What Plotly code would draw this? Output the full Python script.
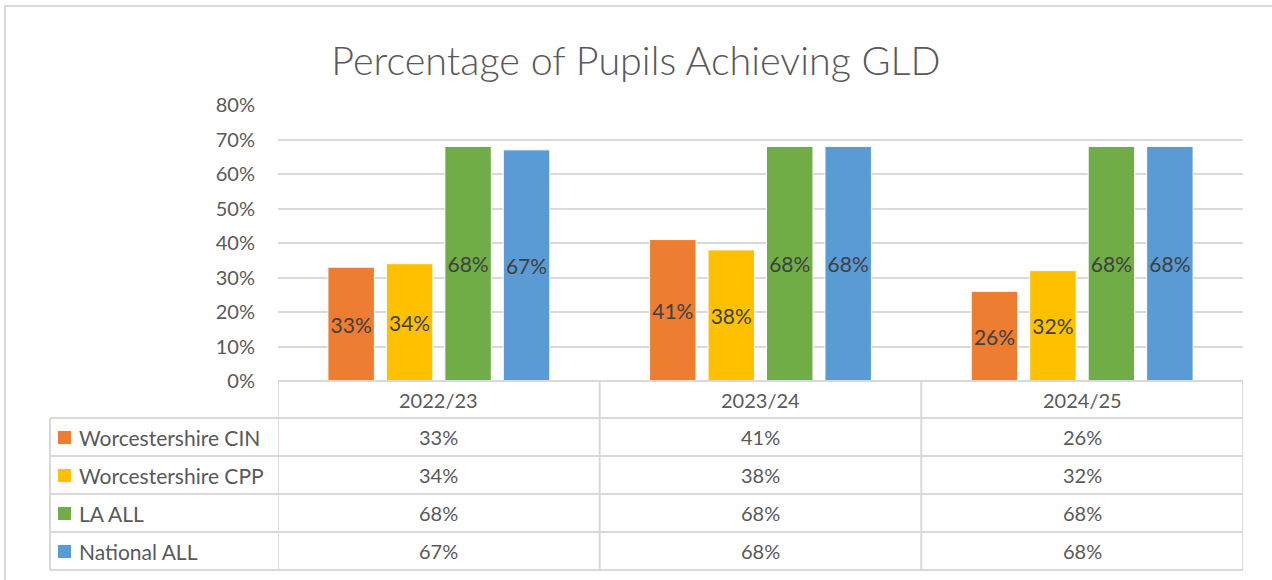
import plotly.graph_objects as go

# Percentage of pupils achieving a Good Level of Development (GLD)
years = ["2022/23", "2023/24", "2024/25"]
series_names = ["Worcestershire CIN", "Worcestershire CPP", "LA ALL", "National ALL"]
cin = [33, 41, 26]
cpp = [34, 38, 32]
la_all = [68, 68, 68]
national_all = [67, 68, 68]
series_values = [cin, cpp, la_all, national_all]
colors = ["#ED7D31", "#FFC000", "#70AD47", "#5B9BD5"]

W, H = 1272, 580
PLOT_L, PLOT_R, PLOT_T, PLOT_B = 278, 1243, 105, 381
FONT = "Lato"
GRID = "#D9D9D9"
TXT = "#595959"


def px_x(p):
    return (p - PLOT_L) / (PLOT_R - PLOT_L)


def px_y(p):
    return (PLOT_B - p) / (PLOT_B - PLOT_T)


fig = go.Figure()
for name, vals, col in zip(series_names, series_values, colors):
    fig.add_trace(go.Bar(
        name=name, x=years, y=vals,
        marker=dict(color=col, line=dict(color="white", width=1)),
        text=[f"{v}%" for v in vals], texttemplate="%{text}",
        textposition="inside", textangle=0,
        insidetextanchor="middle", constraintext="none",
        textfont=dict(family=FONT, size=21, color="#404040"),
        hoverinfo="skip",
    ))

shapes = []
annotations = []

# data table: header row + one row per series
row_h = 38
header_top = PLOT_B
rows_top = header_top + 37
table_bottom = rows_top + row_h * len(series_names)
line = dict(color=GRID, width=2)

# horizontal lines across the value columns
for k in range(len(series_names) + 2):
    p = header_top if k == 0 else rows_top + row_h * (k - 1)
    x0 = PLOT_L if k == 0 else 50
    shapes.append(dict(type="line", xref="paper", yref="paper",
                       x0=px_x(x0), x1=1, y0=px_y(p), y1=px_y(p), line=line))
# vertical lines at category boundaries
for i in range(len(years) + 1):
    shapes.append(dict(type="line", xref="x", yref="paper",
                       x0=i - 0.5, x1=i - 0.5, y0=px_y(header_top), y1=px_y(table_bottom),
                       line=line))
# left edge of the legend column
shapes.append(dict(type="line", xref="paper", yref="paper",
                   x0=px_x(50), x1=px_x(50), y0=px_y(rows_top), y1=px_y(table_bottom),
                   line=line))

for i, yr in enumerate(years):
    annotations.append(dict(xref="x", yref="paper", x=i, y=px_y(header_top + 19),
                            xanchor="center", yanchor="middle",
                            text=yr, showarrow=False,
                            font=dict(family=FONT, size=20, color=TXT)))

for r, (name, vals, col) in enumerate(zip(series_names, series_values, colors)):
    cy = rows_top + row_h * r + row_h / 2
    shapes.append(dict(type="rect", xref="paper", yref="paper",
                       x0=px_x(58), x1=px_x(71), y0=px_y(cy - 6), y1=px_y(cy + 7),
                       fillcolor=col, line=dict(width=0)))
    annotations.append(dict(xref="paper", yref="paper", x=px_x(77), y=px_y(cy),
                            xanchor="left", yanchor="middle", text=name, showarrow=False,
                            font=dict(family=FONT, size=21, color=TXT)))
    for i, v in enumerate(vals):
        annotations.append(dict(xref="x", yref="paper", x=i, y=px_y(cy),
                                xanchor="center", yanchor="middle",
                                text=f"{v}%", showarrow=False,
                                font=dict(family=FONT, size=20, color=TXT)))

# outer chart border
shapes.append(dict(type="rect", xref="paper", yref="paper",
                   x0=px_x(5), x1=px_x(1290), y0=px_y(6), y1=px_y(600),
                   line=dict(color=GRID, width=2), fillcolor="rgba(0,0,0,0)"))

fig.update_layout(
    width=W, height=H, autosize=False,
    margin=dict(l=PLOT_L, r=W - PLOT_R, t=PLOT_T, b=H - PLOT_B, pad=0),
    paper_bgcolor="white", plot_bgcolor="white",
    barmode="group", bargap=0.273, bargroupgap=0.205,
    showlegend=False,
    title=dict(text="Percentage of Pupils Achieving GLD", x=0.5, xanchor="center",
               xref="container", y=1 - 61 / H, yanchor="middle", yref="container",
               font=dict(family=FONT, size=39.5, color=TXT, weight=300)),
    xaxis=dict(showticklabels=False, showgrid=False, zeroline=False,
               showline=False, ticks="", range=[-0.5, 2.5], fixedrange=True),
    yaxis=dict(range=[0, 80], dtick=10, ticksuffix="%", showgrid=True,
               gridcolor=GRID, gridwidth=2, zeroline=False, showline=False,
               ticklabelstandoff=22,
               tickfont=dict(family=FONT, size=20, color=TXT), fixedrange=True),
    shapes=shapes, annotations=annotations,
)

fig.write_html("out.html")
